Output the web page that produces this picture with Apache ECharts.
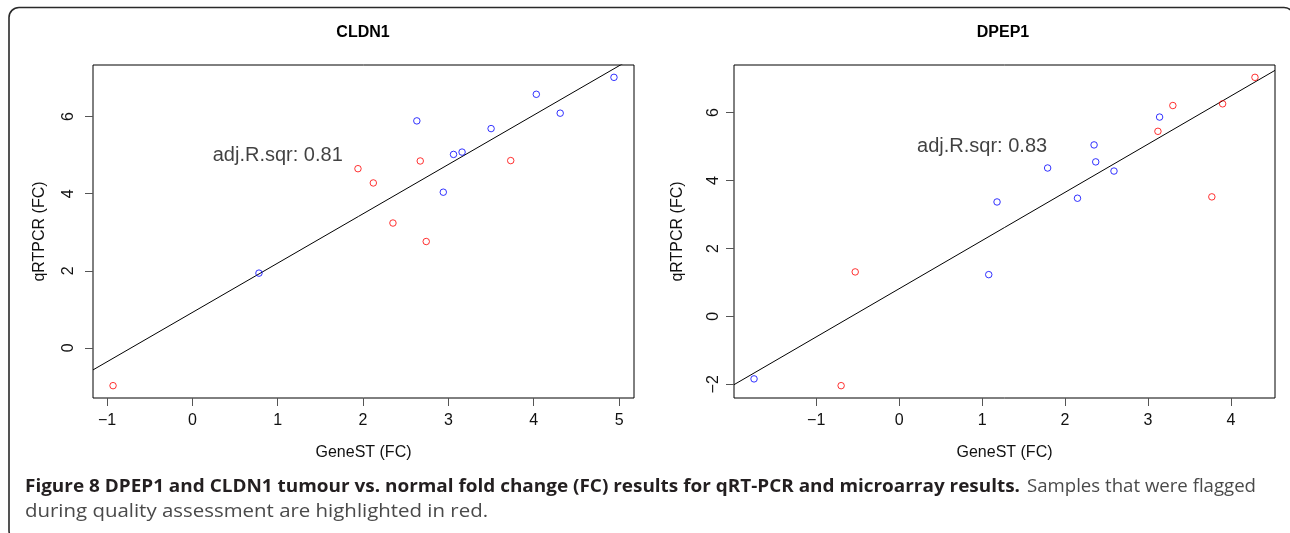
<!DOCTYPE html>
<html>
<head>
<meta charset="utf-8">
<script src="https://cdn.jsdelivr.net/npm/echarts@6/dist/echarts.min.js"></script>
<style>
html,body{margin:0;padding:0;background:#fff;}
#chart{width:1290px;height:533px;}
</style>
</head>
<body>
<div id="chart"></div>
<script>
// ---------- DATA ----------
// CLDN1 panel
const cldn1OkX   = [0.78, 2.63, 2.94, 3.06, 3.16, 3.50, 4.03, 4.31, 4.94];
const cldn1OkY   = [1.94, 5.89, 4.04, 5.02, 5.08, 5.69, 6.58, 6.09, 7.02];
const cldn1FlagX = [-0.93, 1.94, 2.12, 2.35, 2.67, 2.74, 3.73];
const cldn1FlagY = [-0.98, 4.65, 4.28, 3.24, 4.85, 2.76, 4.86];
const cldn1Fit   = [0.92, 1.28];          // intercept, slope of drawn fit line
const cldn1Note  = "adj.R.sqr: 0.81";
const cldn1NoteAt = [1, 5];

// DPEP1 panel
const dpep1OkX   = [-1.75, 1.08, 1.18, 1.79, 2.15, 2.35, 2.37, 2.59, 3.14];
const dpep1OkY   = [-1.84, 1.23, 3.37, 4.37, 3.48, 5.05, 4.55, 4.28, 5.87];
const dpep1FlagX = [-0.70, -0.53, 3.12, 3.30, 3.77, 3.90, 4.29];
const dpep1FlagY = [-2.04, 1.31, 5.45, 6.21, 3.52, 6.26, 7.04];
const dpep1Fit   = [0.815, 1.419];
const dpep1Note  = "adj.R.sqr: 0.83";
const dpep1NoteAt = [1, 5];

// tick labels
const cldn1XTicks = [-1, 0, 1, 2, 3, 4, 5];
const cldn1YTicks = [0, 2, 4, 6];
const dpep1XTicks = [-1, 0, 1, 2, 3, 4];
const dpep1YTicks = [-2, 0, 2, 4, 6];

// texts
const panelTitles = ["CLDN1", "DPEP1"];
const xName = "GeneST (FC)";
const yName = "qRTPCR (FC)";
const captionBold = "Figure 8 DPEP1 and CLDN1 tumour vs. normal fold change (FC) results for qRT-PCR and microarray results.";
const captionRest1 = "Samples that were flagged";
const captionRest2 = "during quality assessment are highlighted in red.";

// ---------- BUILD ----------
const FONT = '"Liberation Sans", Arial, Helvetica, sans-serif';
const CAPFONT = '"Open Sans", sans-serif';
function rRange(a){ const mn=Math.min(...a), mx=Math.max(...a), r=mx-mn; return [mn-0.04*r, mx+0.04*r]; }
function pairs(xs, ys){ return xs.map((x,i)=>[x, ys[i]]); }
const fmt = v => String(v).replace('-', '\u2212');

const panels = [
  {okX:cldn1OkX, okY:cldn1OkY, flX:cldn1FlagX, flY:cldn1FlagY, fit:cldn1Fit, note:cldn1Note, noteAt:cldn1NoteAt,
   xt:cldn1XTicks, yt:cldn1YTicks, rect:{left:93, top:65, width:541, height:333}, ylm:16, yng:45, tx:363},
  {okX:dpep1OkX, okY:dpep1OkY, flX:dpep1FlagX, flY:dpep1FlagY, fit:dpep1Fit, note:dpep1Note, noteAt:dpep1NoteAt,
   xt:dpep1XTicks, yt:dpep1YTicks, rect:{left:734, top:65, width:541, height:333}, ylm:12, yng:48, tx:1003}
];

const grid=[], xAxis=[], yAxis=[], series=[], title=[];
panels.forEach((p, i) => {
  const xr = rRange(p.okX.concat(p.flX));
  const yr = rRange(p.okY.concat(p.flY));
  grid.push(Object.assign({show:true, borderColor:'#000', borderWidth:1, backgroundColor:'transparent', outerBoundsMode:'none'}, p.rect));
  xAxis.push({type:'value', gridIndex:i, min:xr[0], max:xr[1],
    name:xName, nameLocation:'middle', nameGap:47,
    nameTextStyle:{fontFamily:FONT, fontSize:16, color:'#111'},
    axisLine:{show:false, onZero:false}, splitLine:{show:false},
    axisTick:{show:true, length:8, lineStyle:{color:'#555'}, customValues:p.xt},
    axisLabel:{customValues:p.xt, formatter:fmt, margin:15, fontFamily:FONT, fontSize:16, color:'#111'}});
  yAxis.push({type:'value', gridIndex:i, min:yr[0], max:yr[1],
    name:yName, nameLocation:'middle', nameGap:p.yng,
    nameTextStyle:{fontFamily:FONT, fontSize:16, color:'#111'},
    axisLine:{show:false, onZero:false}, splitLine:{show:false},
    axisTick:{show:true, length:8, lineStyle:{color:'#555'}, customValues:p.yt},
    axisLabel:{customValues:p.yt, formatter:fmt, rotate:90, margin:p.ylm, fontFamily:FONT, fontSize:16, color:'#111'}});
  // fit line across the plot region (clipped)
  series.push({type:'line', xAxisIndex:i, yAxisIndex:i, showSymbol:false, clip:true, silent:true, z:2,
    lineStyle:{color:'#000', width:1},
    data:[[xr[0], p.fit[0]+p.fit[1]*xr[0]], [xr[1], p.fit[0]+p.fit[1]*xr[1]]]});
  series.push({type:'scatter', name:'ok', xAxisIndex:i, yAxisIndex:i, symbol:'circle', symbolSize:6.5, z:3,
    itemStyle:{color:'rgba(0,0,0,0)', borderColor:'#0000ff', borderWidth:1},
    data:pairs(p.okX, p.okY)});
  series.push({type:'scatter', name:'flagged', xAxisIndex:i, yAxisIndex:i, symbol:'circle', symbolSize:6.5, z:3,
    itemStyle:{color:'rgba(0,0,0,0)', borderColor:'#ff0000', borderWidth:1},
    data:pairs(p.flX, p.flY)});
  series.push({type:'scatter', xAxisIndex:i, yAxisIndex:i, symbolSize:0, silent:true, z:4,
    itemStyle:{color:'rgba(0,0,0,0)'},
    label:{show:true, position:'inside', formatter:p.note, fontFamily:FONT, fontSize:20, color:'#111'},
    data:[p.noteAt]});
  title.push({text:panelTitles[i], left:p.tx, top:33, textAlign:'center', textVerticalAlign:'middle', padding:0,
    textStyle:{fontFamily:FONT, fontSize:16, fontWeight:'bold', color:'#000'}});
});

// caption: fit measured widths of the reference
const ctx = document.createElement('canvas').getContext('2d');
const CAPSIZE = 18;
function measure(txt, weight){ ctx.font = weight + ' ' + CAPSIZE + 'px ' + CAPFONT; return ctx.measureText(txt).width; }
function capText(txt, x, y, targetW, weight, color){
  const w = measure(txt, weight);
  return {type:'text', x:x, y:y, scaleX: targetW / w, scaleY:1, originX:0, originY:0, silent:true,
    style:{text:txt, fill:color, font: weight + ' ' + CAPSIZE + 'px ' + CAPFONT, textAlign:'left', textVerticalAlign:'middle'}};
}

const graphic = [
  {type:'rect', silent:true, shape:{x:9, y:7.5, width:1285, height:533, r:10},
   style:{fill:'none', stroke:'#2a2a2a', lineWidth:1.6}},
  capText(captionBold, 25, 486.5, 995, 'bold', '#231f20'),
  capText(captionRest1, 1027, 486.5, 229, 'normal', '#4a4a4a'),
  capText(captionRest2, 25, 511.5, 463, 'normal', '#4a4a4a')
];

const chart = echarts.init(document.getElementById('chart'), null, {renderer:'canvas'});
chart.setOption({animation:false, backgroundColor:'#fff', title, grid, xAxis, yAxis, series, graphic});
</script>
</body>
</html>
